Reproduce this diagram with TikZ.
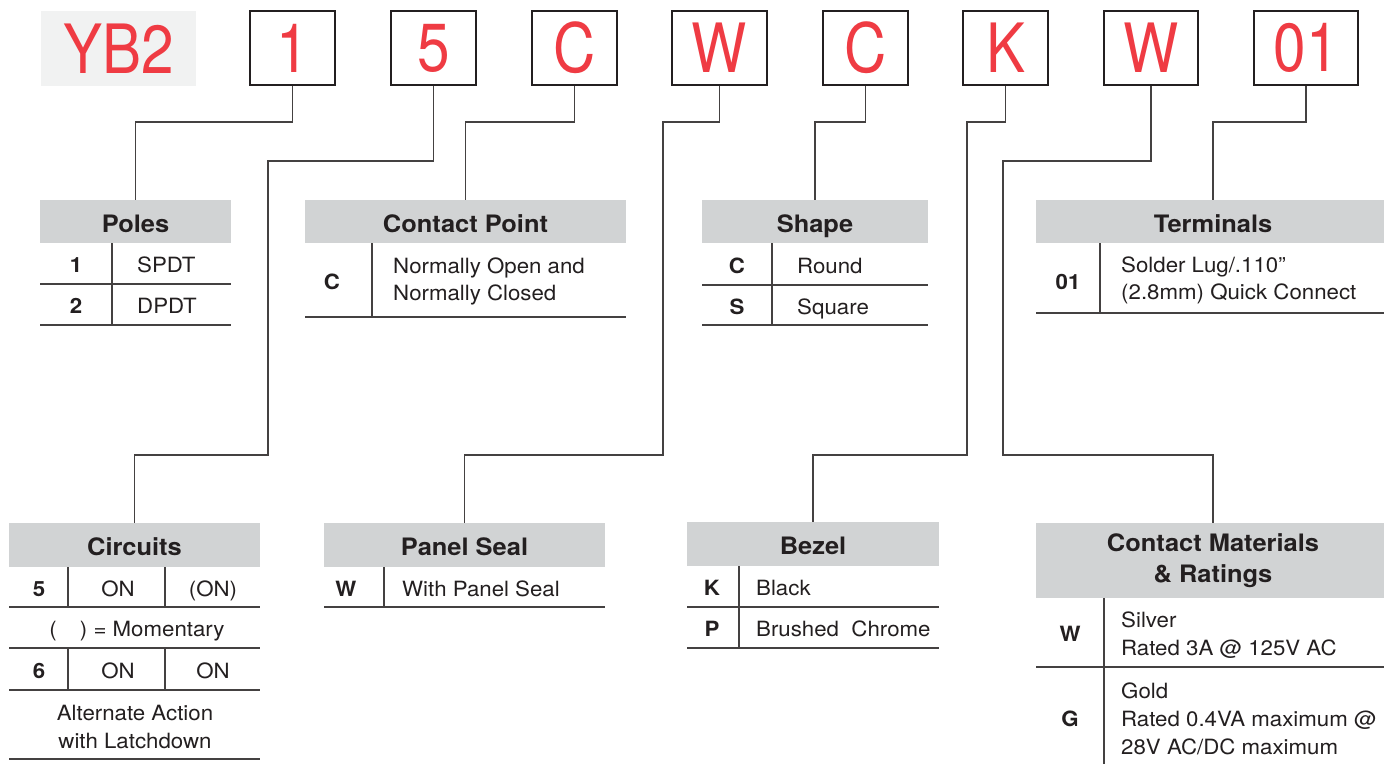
\documentclass[tikz,border=0pt]{standalone}
\usepackage{fontspec}
\setmainfont{TeX Gyre Heros}[FakeStretch=1.06]
\newfontfamily\codefont{TeX Gyre Heros}[FakeStretch=0.86]

\definecolor{codered}{RGB}{239,59,67}
\definecolor{hdrgray}{RGB}{209,211,212}
\definecolor{tagbg}{RGB}{241,242,242}
\definecolor{ink}{RGB}{35,31,32}

\tikzset{
    codebox/.style={draw=ink, line width=2.2pt, minimum height=74pt, inner sep=0pt,
        text=codered, font=\codefont\fontsize{68}{68}\selectfont},
    hdr/.style={fill=hdrgray, minimum height=43pt, inner sep=0pt, text=ink,
        font=\fontsize{24}{31}\selectfont\bfseries},
    hdrline/.style={hdr, text height=24pt, text depth=3pt},
    key/.style={anchor=base, inner sep=0pt, text=ink, font=\fontsize{21}{28}\selectfont\bfseries},
    val/.style={anchor=base west, inner sep=0pt, text=ink, font=\fontsize{21}{28}\selectfont},
    multi/.style={anchor=west, align=left},
    link/.style={draw=ink!85, line width=1.3pt},
    rule/.style={draw=ink!85, line width=1.3pt}
}

\begin{document}
\begin{tikzpicture}[x=1pt,y=-1pt]
        \fill[white] (0,0) rectangle (1384,763);
        \useasboundingbox (0,0) rectangle (1384,763);

        %Bestellcode
        \node (series) at (118.5,48.5)[fill=tagbg, minimum width=155pt, minimum height=75pt, inner sep=0pt,
            text=codered, font=\codefont\fontsize{68}{68}\selectfont]{YB2};
        \node (c1) at (292.5,48)[codebox, minimum width=85pt]{1};
        \node (c2) at (433.5,48)[codebox, minimum width=85pt]{5};
        \node (c3) at (574.5,48)[codebox, minimum width=85pt]{C};
        \node (c4) at (719.5,48)[codebox, minimum width=95pt]{W};
        \node (c5) at (865.5,48)[codebox, minimum width=85pt]{C};
        \node (c6) at (1005.5,48)[codebox, minimum width=85pt]{K};
        \node (c7) at (1151,48)[codebox, minimum width=94pt]{W};
        \node (c8) at (1306,48)[codebox, minimum width=104pt]{01};

        %Tabellenköpfe
        \node (poles) at (135.5,221.5)[hdrline, minimum width=191pt]{Poles};
        \node (contact) at (465.5,221.5)[hdrline, minimum width=321pt]{Contact Point};
        \node (shape) at (815,221.5)[hdrline, minimum width=226pt]{Shape};
        \node (terminal) at (1213,221.5)[hdrline, minimum width=354pt]{Terminals};
        \node (circuits) at (134.5,545)[hdrline, minimum width=251pt, minimum height=44pt]{Circuits};
        \node (seal) at (464.5,545)[hdrline, minimum width=281pt, minimum height=44pt]{Panel Seal};
        \node (bezel) at (813,544)[hdrline, minimum width=252pt, minimum height=44pt]{Bezel};
        \node (material) at (1213,560.5)[hdr, minimum width=354pt, minimum height=75pt, align=center]{Contact Materials\\\& Ratings};

        %Verbindungen
        \coordinate (k2) at (268,455);
        \coordinate (k4) at (663,455);
        \coordinate (k6) at (967,455);
        \coordinate (k7) at (1003,455);
        \draw[link] (c1.south) -- ++(0,36) -| (poles.north);
        \draw[link] (c2.south) -- ++(0,75) -| (k2) -| (circuits.north);
        \draw[link] (c3.south) -- ++(0,36) -| (contact.north);
        \draw[link] (c4.south) -- ++(0,36) -| (k4) -| (seal.north);
        \draw[link] (c5.south) -- ++(0,36) -| (shape.north);
        \draw[link] (c6.south) -- ++(0,36) -| (k6) -| (bezel.north);
        \draw[link] (c7.south) -- ++(0,75) -| (k7) -| (material.north);
        \draw[link] (c8.south) -- ++(0,36) -| (terminal.north);

        %Poles
        \draw[rule] (40,284) -- (231,284);
        \draw[rule] (40,325) -- (231,325);
        \draw[rule] (112,243) -- (112,325);
        \node (pk1) at (76,272.5)[key]{1};
        \node (pv1) at (137,272.5)[val]{SPDT};
        \node (pk2) at (76,313.5)[key]{2};
        \node (pv2) at (137,313.5)[val]{DPDT};

        %Contact Point
        \draw[rule] (305,317) -- (626,317);
        \draw[rule] (372,243) -- (372,317);
        \node (ck1) at (332,289)[key]{C};
        \node (cv1) at (393,281)[val, multi, font=\fontsize{21}{27}\selectfont]{Normally Open and\\Normally Closed};

        %Shape
        \draw[rule] (702,285) -- (928,285);
        \draw[rule] (702,325) -- (928,325);
        \draw[rule] (772,243) -- (772,325);
        \node (sk1) at (737,273)[key]{C};
        \node (sv1) at (797,273)[val]{Round};
        \node (sk2) at (737,314)[key]{S};
        \node (sv2) at (797,314)[val]{Square};

        %Terminals
        \draw[rule] (1036,313) -- (1390,313);
        \draw[rule] (1100,243) -- (1100,313);
        \node (tk1) at (1068,289)[key]{01};
        \node (tv1) at (1121,280)[val, multi, font=\fontsize{21}{27}\selectfont]{Solder Lug/.110\textquotedblright\\(2.8mm) Quick Connect};

        %Circuits
        \draw[rule] (9,607) -- (260,607);
        \draw[rule] (9,648) -- (260,648);
        \draw[rule] (9,690) -- (260,690);
        \draw[rule] (9,759) -- (260,759);
        \draw[rule] (68,567) -- (68,607);
        \draw[rule] (165,567) -- (165,607);
        \draw[rule] (68,648) -- (68,690);
        \draw[rule] (165,648) -- (165,690);
        \node (rk1) at (39,596)[key]{5};
        \node (ra1) at (118,596)[val, anchor=base]{ON};
        \node (rb1) at (213,596)[val, anchor=base]{(ON)};
        \node (rnote) at (137,636.5)[val, anchor=base]{(\hspace{1.1em}) = Momentary};
        \node (rk2) at (39,678)[key]{6};
        \node (ra2) at (118,678)[val, anchor=base]{ON};
        \node (rb2) at (213,678)[val, anchor=base]{ON};
        \node (ralt) at (135,726.5)[val, anchor=center, align=center]{Alternate Action\\with Latchdown};

        %Panel Seal
        \draw[rule] (324,607) -- (605,607);
        \draw[rule] (384,567) -- (384,607);
        \node (lk1) at (346,596)[key]{W};
        \node (lv1) at (402,596)[val]{With Panel Seal};

        %Bezel
        \draw[rule] (687,607) -- (939,607);
        \draw[rule] (687,648) -- (939,648);
        \draw[rule] (739,566) -- (739,648);
        \node (bk1) at (712,595.5)[key]{K};
        \node (bv1) at (756,595.5)[val]{Black};
        \node (bk2) at (712,636.5)[key]{P};
        \node (bv2) at (756,636.5)[val]{Brushed\ \ Chrome};

        %Contact Materials
        \draw[rule] (1036,667) -- (1390,667);
        \draw[rule] (1104,598) -- (1104,770);
        \node (mk1) at (1070,641)[key]{W};
        \node (mv1) at (1121,635.5)[val, multi]{Silver\\Rated 3A @ 125V AC};
        \node (mk2) at (1070,726)[key]{G};
        \node (mv2) at (1121,718.7)[val, multi]{Gold\\Rated 0.4VA maximum @\\28V AC/DC maximum};
    \end{tikzpicture}
\end{document}
